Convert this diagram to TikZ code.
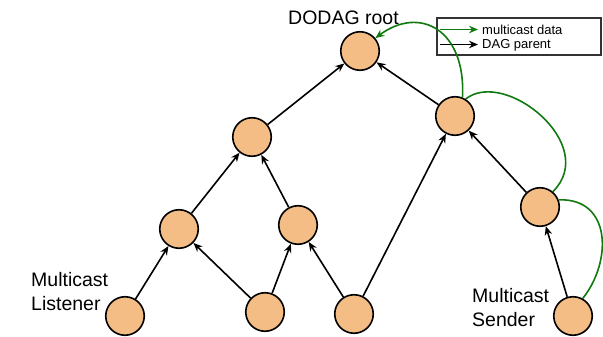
\documentclass[tikz,border=0pt]{standalone}
\usepackage{fontspec}
\setmainfont{Liberation Sans}
\usetikzlibrary{arrows.meta}
\definecolor{nodeFill}{RGB}{244,189,134}
\definecolor{dataGreen}{RGB}{16,122,16}
\tikzset{%
  >={Stealth[width=7.5pt,length=9pt]},
  % Specifications for style of nodes:
     base/.style = {circle, draw=black, line width=1.6pt,
                    minimum size=38.5pt, inner sep=0pt},
    dagNode/.style = {base, fill=nodeFill},
    labelText/.style = {font=\fontsize{19.5}{24}\selectfont, inner sep=0pt, align=left},
    legendText/.style = {font=\fontsize{13}{15}\selectfont, inner sep=0pt, anchor=base west},
    legendBox/.style = {rectangle, draw=black!80, line width=1.2pt,
                        minimum width=164pt, minimum height=37pt},
  % Specifications for style of lines:
    dagParent/.style = {->, line width=1.6pt, black},
    mcastData/.style = {line width=1.6pt, dataGreen},
}

\begin{document}
\begin{tikzpicture}[x=1pt, y=-1pt]
  \useasboundingbox (0,0) rectangle (603,337);

  % Specification of nodes (position, etc.)
  \node (root)      [dagNode] at (360,51)  {};
  \node (midLeft)   [dagNode] at (252,137) {};
  \node (midRight)  [dagNode] at (455,116) {};
  \node (lowLeft)   [dagNode] at (179,229) {};
  \node (lowMid)    [dagNode] at (298,225) {};
  \node (relay)     [dagNode] at (540,207) {};
  \node (listener)  [dagNode] at (125,316) {};
  \node (leafMid)   [dagNode] at (265,312) {};
  \node (leafRight) [dagNode] at (354,314) {};
  \node (sender)    [dagNode] at (573,316) {};

  % labels
  \node (rootLabel)     [labelText, anchor=base west] at (288,25) {DODAG root};
  \node (listenerLabel) [labelText, anchor=base west] at (31,286) {Multicast};
  \node (listenerLabelB)[labelText, anchor=base west] at (31,310) {Listener};
  \node (senderLabel)   [labelText, anchor=base west] at (472,302) {Multicast};
  \node (senderLabelB)  [labelText, anchor=base west] at (472,326) {Sender};

  % legend
  \node (legend) [legendBox] at (519,36.5) {};
  \node (lgData)   [legendText] at (482,35) {multicast data};
  \node (lgParent) [legendText] at (482,49) {DAG parent};
  \coordinate (lgDataStart)   at (440,29.5);
  \coordinate (lgDataEnd)     at (478,29.5);
  \coordinate (lgParentStart) at (440,44.5);
  \coordinate (lgParentEnd)   at (478,44.5);
  \draw[mcastData, ->] (lgDataStart) -- (lgDataEnd);
  \draw[dagParent] (lgParentStart) -- (lgParentEnd);

  % Specification of lines between nodes specified above
  \draw[dagParent] (midLeft) -- (root);
  \draw[dagParent] (midRight) -- (root);
  \draw[dagParent] (lowLeft) -- (midLeft);
  \draw[dagParent] (lowMid) -- (midLeft);
  \draw[dagParent] (listener) -- (lowLeft);
  \draw[dagParent] (leafMid) -- (lowLeft);
  \draw[dagParent] (leafMid) -- (lowMid);
  \draw[dagParent] (leafRight) -- (lowMid);
  \draw[dagParent] (leafRight) -- (midRight);
  \draw[dagParent] (relay) -- (midRight);
  \draw[dagParent] (sender) -- (relay);

  % multicast data path from the sender up to the root
  \draw[mcastData] (sender.61) .. controls (612,262) and (612,198) .. (relay.21);
  \draw[mcastData] (relay.50) .. controls (600,145) and (505,68) .. (midRight.58);
  \draw[mcastData, ->] (midRight.68) .. controls (466,30) and (420,5) .. (root.40);

\end{tikzpicture}
\end{document}
